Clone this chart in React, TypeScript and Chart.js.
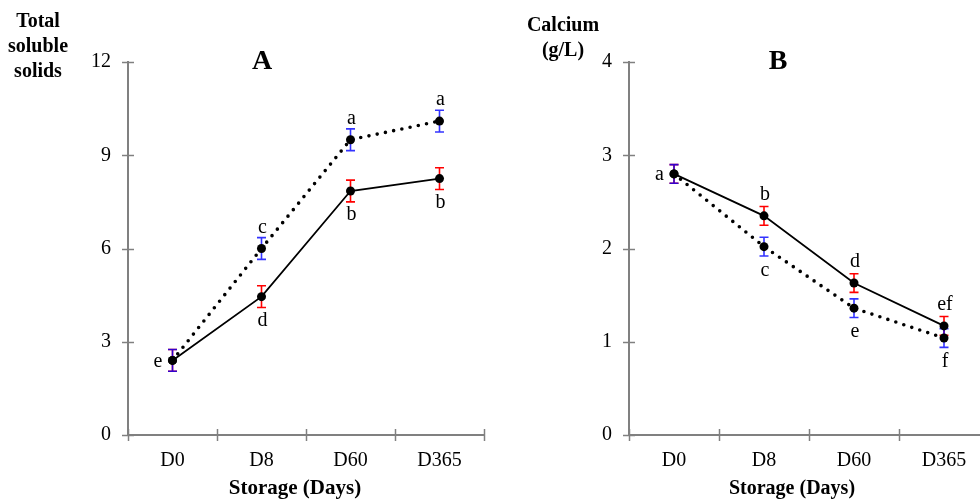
import React, { useEffect, useRef } from 'react';
import { Chart, registerables } from 'chart.js';

Chart.register(...registerables);

// ---------- data ----------
const categories = ['D0', 'D8', 'D60', 'D365'];

const tssTicks = [0, 3, 6, 9, 12];
const tssSolid = [2.4, 4.45, 7.85, 8.25];
const tssDotted = [2.4, 6.0, 9.5, 10.1];
const tssSolidErr = [0.35, 0.35, 0.35, 0.35];
const tssDottedErr = [0.35, 0.35, 0.35, 0.35];
const tssSolidLetters = ['e', 'd', 'b', 'b'];
const tssDottedLetters = ['e', 'c', 'a', 'a'];

const caTicks = [0, 1, 2, 3, 4];
const caSolid = [2.8, 2.35, 1.63, 1.17];
const caDotted = [2.8, 2.02, 1.36, 1.04];
const caSolidErr = [0.1, 0.1, 0.1, 0.1];
const caDottedErr = [0.1, 0.1, 0.1, 0.1];
const caSolidLetters = ['a', 'b', 'd', 'ef'];
const caDottedLetters = ['a', 'c', 'e', 'f'];

const SERIF = '"Liberation Serif", "Times New Roman", serif';
const AXIS_GRAY = '#808080';

type PanelCfg = {
  ticks: number[];
  solid: number[];
  dotted: number[];
  solidErr: number[];
  dottedErr: number[];
  solidLetters: string[];
  dottedLetters: string[];
  title: string;
  titleX: number;
  titleY: number;
  yTitle: string[];
  yTitleX: number;
  yTitleBaselines: number[];
  xTitle: string;
  xTitleX: number;
  xTitleSize: number;
  yAxisWidth: number;
  padRight: number;
  canvasWidth: number;
  left: number;
};

function makeDecorPlugin(cfg: PanelCfg) {
  return {
    id: 'decor',
    beforeDatasetsDraw(chart: any) {
      const ctx = chart.ctx as CanvasRenderingContext2D;
      const yS = chart.scales.y;
      const groups = [
        { idx: 0, vals: cfg.solid, err: cfg.solidErr, color: '#ff0000', alpha: 1 },
        { idx: 1, vals: cfg.dotted, err: cfg.dottedErr, color: '#0000ff', alpha: 0.8 },
      ];
      ctx.save();
      for (const g of groups) {
        const meta = chart.getDatasetMeta(g.idx);
        ctx.strokeStyle = g.color;
        ctx.globalAlpha = g.alpha;
        ctx.lineWidth = 1.6;
        meta.data.forEach((pt: any, j: number) => {
          const x = pt.x;
          const yt = yS.getPixelForValue(g.vals[j] + g.err[j]);
          const yb = yS.getPixelForValue(g.vals[j] - g.err[j]);
          ctx.beginPath();
          ctx.moveTo(x, yt);
          ctx.lineTo(x, yb);
          ctx.moveTo(x - 4.5, yt);
          ctx.lineTo(x + 4.5, yt);
          ctx.moveTo(x - 4.5, yb);
          ctx.lineTo(x + 4.5, yb);
          ctx.stroke();
        });
      }
      ctx.restore();
    },
    afterDraw(chart: any) {
      const ctx = chart.ctx as CanvasRenderingContext2D;
      const yS = chart.scales.y;
      const area = chart.chartArea;
      ctx.save();
      // tick marks crossing the axes
      ctx.strokeStyle = AXIS_GRAY;
      ctx.lineWidth = 1.5;
      cfg.ticks.forEach((v) => {
        const y = Math.round(yS.getPixelForValue(v)) + 0.5;
        ctx.beginPath();
        ctx.moveTo(area.left - 6, y);
        ctx.lineTo(area.left + 6, y);
        ctx.stroke();
      });
      const n = categories.length;
      for (let i = 0; i <= n; i++) {
        const x = Math.round(area.left + ((area.right - area.left) * i) / n) + 0.5;
        ctx.beginPath();
        ctx.moveTo(x, area.bottom - 6);
        ctx.lineTo(x, area.bottom + 6);
        ctx.stroke();
      }
      // significance letters
      ctx.fillStyle = '#000';
      ctx.font = `20px ${SERIF}`;
      ctx.textBaseline = 'middle';
      const m0 = chart.getDatasetMeta(0);
      const m1 = chart.getDatasetMeta(1);
      categories.forEach((_, j) => {
        const s = cfg.solid[j];
        const d = cfg.dotted[j];
        const ps = m0.data[j];
        const pd = m1.data[j];
        if (Math.abs(s - d) < 0.05) {
          ctx.textAlign = 'right';
          ctx.fillText(cfg.solidLetters[j], ps.x - 10, ps.y + 1);
        } else {
          ctx.textAlign = 'center';
          const hiIsSolid = s > d;
          const hi = hiIsSolid ? ps : pd;
          const lo = hiIsSolid ? pd : ps;
          const hiL = hiIsSolid ? cfg.solidLetters[j] : cfg.dottedLetters[j];
          const loL = hiIsSolid ? cfg.dottedLetters[j] : cfg.solidLetters[j];
          ctx.fillText(hiL, hi.x + 1, hi.y - 21);
          ctx.fillText(loL, lo.x + 1, lo.y + 24);
        }
      });
      // panel title
      ctx.textAlign = 'center';
      ctx.textBaseline = 'middle';
      ctx.font = `bold 28px ${SERIF}`;
      ctx.fillText(cfg.title, cfg.titleX, cfg.titleY);
      // y title
      ctx.textBaseline = 'alphabetic';
      ctx.font = `bold 20px ${SERIF}`;
      cfg.yTitle.forEach((line, i) => {
        ctx.fillText(line, cfg.yTitleX, cfg.yTitleBaselines[i]);
      });
      // x title
      ctx.font = `bold ${cfg.xTitleSize}px ${SERIF}`;
      ctx.fillText(cfg.xTitle, cfg.xTitleX, 494);
      ctx.restore();
    },
  };
}

function Panel({ cfg }: { cfg: PanelCfg }) {
  const ref = useRef<HTMLCanvasElement | null>(null);
  useEffect(() => {
    if (!ref.current) return;
    const chart = new Chart(ref.current, {
      type: 'line',
      data: {
        labels: categories,
        datasets: [
          {
            data: cfg.solid,
            borderColor: '#000',
            borderWidth: 1.8,
            pointRadius: 4.5,
            pointBackgroundColor: '#000',
            pointBorderWidth: 0,
            tension: 0,
          },
          {
            data: cfg.dotted,
            borderColor: '#000',
            borderWidth: 3.6,
            borderDash: [0, 8.4],
            borderCapStyle: 'round',
            pointRadius: 4.5,
            pointBackgroundColor: '#000',
            pointBorderWidth: 0,
            tension: 0,
          },
        ],
      },
      options: {
        animation: false,
        responsive: false,
        devicePixelRatio: 1,
        layout: { padding: { top: 62, right: cfg.padRight, bottom: 0, left: 0 } },
        plugins: { legend: { display: false }, tooltip: { enabled: false }, title: { display: false } },
        scales: {
          x: {
            type: 'category',
            offset: true,
            grid: { display: false, drawTicks: false },
            border: { display: true, color: AXIS_GRAY, width: 2 },
            ticks: { color: '#000', font: { family: SERIF, size: 20 }, padding: 14, maxRotation: 0 },
            afterFit: (s: any) => {
              s.height = 65;
            },
          },
          y: {
            min: cfg.ticks[0],
            max: cfg.ticks[cfg.ticks.length - 1],
            grid: { display: false, drawTicks: false },
            border: { display: true, color: AXIS_GRAY, width: 2 },
            ticks: { color: '#000', font: { family: SERIF, size: 20 }, padding: 17 },
            afterBuildTicks: (s: any) => {
              s.ticks = cfg.ticks.map((v) => ({ value: v }));
            },
            afterFit: (s: any) => {
              s.width = cfg.yAxisWidth;
            },
          },
        },
      } as any,
      plugins: [makeDecorPlugin(cfg)],
    });
    return () => chart.destroy();
  }, [cfg]);
  return (
    <canvas
      ref={ref}
      width={cfg.canvasWidth}
      height={500}
      style={{ position: 'absolute', left: cfg.left, top: 0, width: cfg.canvasWidth, height: 500 }}
    />
  );
}

const panelA: PanelCfg = {
  ticks: tssTicks,
  solid: tssSolid,
  dotted: tssDotted,
  solidErr: tssSolidErr,
  dottedErr: tssDottedErr,
  solidLetters: tssSolidLetters,
  dottedLetters: tssDottedLetters,
  title: 'A',
  titleX: 262,
  titleY: 62,
  yTitle: ['Total', 'soluble', 'solids'],
  yTitleX: 38,
  yTitleBaselines: [27, 52, 77],
  xTitle: 'Storage (Days)',
  xTitleX: 295,
  xTitleSize: 21,
  yAxisWidth: 128,
  padRight: 6,
  canvasWidth: 490,
  left: 0,
};

const panelB: PanelCfg = {
  ticks: caTicks,
  solid: caSolid,
  dotted: caDotted,
  solidErr: caSolidErr,
  dottedErr: caDottedErr,
  solidLetters: caSolidLetters,
  dottedLetters: caDottedLetters,
  title: 'B',
  titleX: 288,
  titleY: 62,
  yTitle: ['Calcium', '(g/L)'],
  yTitleX: 73,
  yTitleBaselines: [31, 56],
  xTitle: 'Storage (Days)',
  xTitleX: 302,
  xTitleSize: 20,
  yAxisWidth: 139,
  padRight: 11,
  canvasWidth: 510,
  left: 490,
};

export default function App() {
  return (
    <div
      style={{
        position: 'absolute',
        left: 0,
        top: 0,
        width: 980,
        height: 500,
        overflow: 'hidden',
        background: '#fff',
      }}
    >
      <Panel cfg={panelA} />
      <Panel cfg={panelB} />
    </div>
  );
}
